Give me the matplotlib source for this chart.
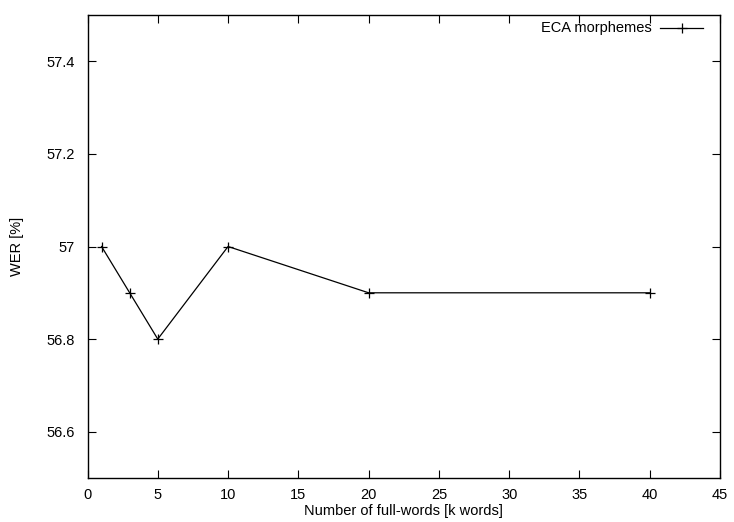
import matplotlib
matplotlib.use("Agg")
import matplotlib.pyplot as plt
from matplotlib.lines import Line2D

plt.rcParams['font.family'] = ['Liberation Sans', 'DejaVu Sans']

vocab_k = [1, 3, 5, 10, 20, 40]
wer = [57.0, 56.9, 56.8, 57.0, 56.9, 56.9]
series_label = "ECA morphemes"
xticks = [0, 5, 10, 15, 20, 25, 30, 35, 40, 45]
yticks = [56.6, 56.8, 57.0, 57.2, 57.4]
ytick_labels = ["56.6", "56.8", "57", "57.2", "57.4"]

FS = 10.5
fig = plt.figure(figsize=(7.34, 5.22), dpi=100)
ax = fig.add_axes([87.5/734, 44/522, (720-87.5)/734, (478-15)/522])

ax.plot(vocab_k, wer, color='black', lw=0.9, marker='+', ms=7, mew=0.9)
ax.set_xlim(0, 45)
ax.set_ylim(56.5, 57.5)
ax.set_xticks(xticks)
ax.set_xticklabels([str(t) for t in xticks])
ax.set_yticks(yticks)
ax.set_yticklabels(ytick_labels)
ax.tick_params(direction='in', length=6, width=0.8, top=True, right=True, labelsize=FS)
ax.tick_params(axis='x', pad=7)
ax.tick_params(axis='y', pad=9)
for s in ax.spines.values():
    s.set_linewidth(1.0)

ax.set_xlabel("Number of full-words [k words]", fontsize=FS, labelpad=2)
ax.set_ylabel("WER [%]", fontsize=FS, labelpad=16)

# legend
fig.text(652/734, 1 - 28/522, series_label, ha='right', va='center', fontsize=FS)
leg_line = Line2D([660/734, 703/734], [1 - 28/522, 1 - 28/522], transform=fig.transFigure,
                  color='black', lw=0.9)
leg_mark = Line2D([681.5/734], [1 - 28/522], transform=fig.transFigure, color='black',
                  marker='+', ms=7, mew=0.9, linestyle='none')
fig.add_artist(leg_line)
fig.add_artist(leg_mark)

fig.savefig("out.png", dpi=100)
